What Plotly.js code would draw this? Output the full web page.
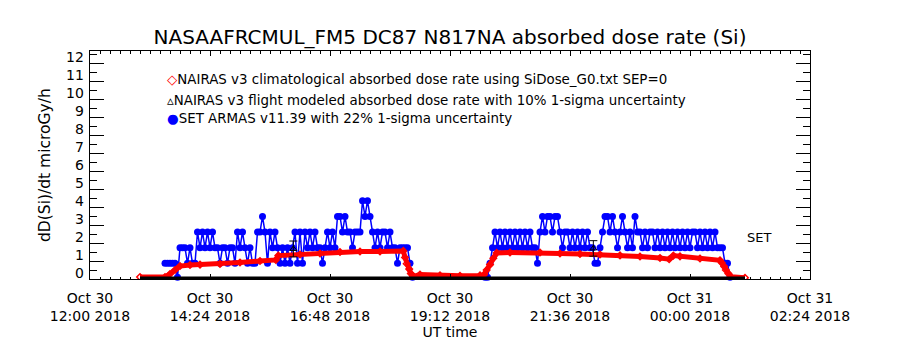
<!DOCTYPE html>
<html><head><meta charset="utf-8">
<script src="https://cdn.plot.ly/plotly-3.0.1.min.js"></script>
<style>html,body{margin:0;padding:0;background:#fff}#chart{width:900px;height:350px}</style>
</head><body><div id="chart"></div>
<script>
// ---- text ----
const chartTitle = "NASAAFRCMUL_FM5 DC87 N817NA absorbed dose rate (Si)";
const yAxisTitle = "dD(Si)/dt microGy/h";
const xAxisTitle = "UT time";
const legendLabels = [
  "NAIRAS v3 climatological absorbed dose rate using SiDose_G0.txt SEP=0",
  "NAIRAS v3 flight modeled absorbed dose rate with 10% 1-sigma uncertainty",
  "SET ARMAS v11.39 with 22% 1-sigma uncertainty"
];
const setLabel = "SET";

// ---- axes ----
const xRange = ["2018-10-30 12:00", "2018-10-31 02:24"];
const xTickVals = ["2018-10-30 12:00","2018-10-30 14:24","2018-10-30 16:48","2018-10-30 19:12","2018-10-30 21:36","2018-10-31 00:00","2018-10-31 02:24"];
const xTickText = ["Oct 30<br>12:00 2018","Oct 30<br>14:24 2018","Oct 30<br>16:48 2018","Oct 30<br>19:12 2018","Oct 30<br>21:36 2018","Oct 31<br>00:00 2018","Oct 31<br>02:24 2018"];
const yRange = [0, 12.67];
const yTickVals = [0,1,2,3,4,5,6,7,8,9,10,11,12];
const yTickText = ["0","1","2","3","4","5","6","7","8","9","10","11","12"];
const yLabelLift = 0.35; // tick labels sit slightly above their ticks, as in the original

// ---- NAIRAS climatological (red) ----
const climTimes = ["2018-10-30 13:00","2018-10-30 13:30","2018-10-30 13:36","2018-10-30 13:42","2018-10-30 13:48","2018-10-30 14:00","2018-10-30 14:12","2018-10-30 14:36","2018-10-30 15:00","2018-10-30 15:24","2018-10-30 15:43","2018-10-30 15:46","2018-10-30 16:12","2018-10-30 16:36","2018-10-30 17:00","2018-10-30 17:24","2018-10-30 17:48","2018-10-30 18:16","2018-10-30 18:18","2018-10-30 18:20","2018-10-30 18:23","2018-10-30 18:25","2018-10-30 18:28","2018-10-30 18:36","2018-10-30 19:00","2018-10-30 19:24","2018-10-30 19:48","2018-10-30 19:53","2018-10-30 19:56","2018-10-30 20:00","2018-10-30 20:04","2018-10-30 20:08","2018-10-30 20:24","2018-10-30 21:00","2018-10-30 21:24","2018-10-30 21:48","2018-10-30 22:12","2018-10-30 22:36","2018-10-30 23:00","2018-10-30 23:24","2018-10-30 23:35","2018-10-30 23:40","2018-10-30 23:48","2018-10-31 00:12","2018-10-31 00:36","2018-10-31 00:38","2018-10-31 00:41","2018-10-31 00:43","2018-10-31 00:46","2018-10-31 00:49","2018-10-31 01:06"];
const climDose = [0.11,0.11,0.28,0.5,0.72,0.78,0.8,0.83,0.92,1.0,1.06,1.3,1.36,1.42,1.5,1.53,1.53,1.56,1.2,0.85,0.55,0.3,0.15,0.25,0.2,0.18,0.2,0.25,0.5,0.8,1.15,1.45,1.47,1.47,1.42,1.39,1.36,1.31,1.25,1.17,1.1,1.3,1.26,1.14,1.04,0.9,0.7,0.5,0.3,0.12,0.07];

// ---- NAIRAS flight modeled (black) ----
const modelTimes = ["2018-10-30 13:00","2018-10-30 16:00","2018-10-30 19:00","2018-10-30 22:00","2018-10-31 01:06"];
const modelDose = [0.05,0.05,0.05,0.05,0.05];
const uncTimes = ["2018-10-30 16:04","2018-10-30 22:04"];
const uncDose = [1.67,1.70];
const uncErr = [0.44,0.43];

// ---- SET ARMAS (blue), 3-minute samples ----
const setLeg1Start = "2018-10-30T13:30:00Z";
const setLeg2Start = "2018-10-30T19:54:00Z";
const setCadenceMin = 3;
const setLeg1 = [0.87,0.87,0.87,0.87,0.87,0.1,1.74,1.74,1.74,0.87,
  1.74,0.87,0.87,2.61,1.74,2.61,1.74,2.61,1.74,2.61,
  1.74,1.74,0.87,1.74,1.74,0.87,1.74,1.74,0.87,2.61,
  1.74,2.61,1.74,0.87,1.74,0.87,0.87,2.61,2.61,3.48,
  2.61,0.87,2.61,1.74,2.61,1.74,0.87,1.74,0.87,1.74,
  0.87,1.74,2.61,0.87,2.61,0.87,2.61,1.74,2.61,1.74,
  2.61,1.74,1.74,0.87,1.74,2.61,1.74,2.61,1.74,3.48,
  3.48,2.61,3.48,2.61,2.61,1.74,2.61,2.61,2.61,4.35,
  3.48,4.35,3.48,2.61,1.74,2.61,1.74,2.61,2.61,1.74,
  2.61,1.74,1.74,0.87,1.74,1.74,1.74,1.74,0.87,0.1];
const setLeg2 = [0.1,0.1,0.87,1.74,2.61,1.74,2.61,1.74,2.61,1.74,
  2.61,1.74,2.61,1.74,2.61,1.74,2.61,1.74,2.61,1.74,
  1.74,0.87,2.61,3.48,2.61,3.48,3.48,2.61,3.48,3.48,
  2.61,1.74,2.61,2.61,1.74,2.61,1.74,2.61,1.74,2.61,
  1.74,2.61,1.74,1.74,0.87,0.87,1.74,2.61,3.48,3.48,
  2.61,3.48,2.61,1.74,2.61,3.48,2.61,1.74,2.61,1.74,
  3.48,2.61,2.61,1.74,2.61,1.74,2.61,2.61,1.74,2.61,
  1.74,2.61,1.74,2.61,1.74,2.61,1.74,2.61,1.74,2.61,
  1.74,2.61,1.74,2.61,2.61,1.74,2.61,1.74,2.61,1.74,
  2.61,1.74,2.61,1.74,1.74,1.74,0.87,0.87,0.1];

function sampleTimes(startIso, n) {
  const t0 = Date.parse(startIso);
  const out = [];
  for (let i = 0; i < n; i++) out.push(t0 + i * setCadenceMin * 60000);
  return out;
}
const setTimes = sampleTimes(setLeg1Start, setLeg1.length).concat([null], sampleTimes(setLeg2Start, setLeg2.length));
const setDose = setLeg1.concat([null], setLeg2);

const RED = "#ff0000", BLUE = "#0000ff", BLACK = "#000000";
const FONT = "DejaVu Sans, Liberation Sans, sans-serif";

const traces = [
  {x: setTimes, y: setDose, type: "scatter", mode: "lines+markers",
   line: {color: BLUE, width: 1.5}, marker: {color: BLUE, size: 7, symbol: "circle"},
   connectgaps: false, showlegend: false, cliponaxis: false},
  {x: climTimes, y: climDose, type: "scatter", mode: "lines+markers",
   line: {color: RED, width: 5}, marker: {color: RED, size: 5, symbol: "diamond-open", line: {width: 1.5, color: RED}},
   showlegend: false},
  {x: modelTimes, y: modelDose, type: "scatter", mode: "lines",
   line: {color: BLACK, width: 3}, showlegend: false},
  {x: uncTimes, y: uncDose, type: "scatter", mode: "markers",
   marker: {color: BLACK, size: 6, symbol: "triangle-up-open", line: {width: 1, color: BLACK}},
   error_y: {type: "data", array: uncErr, visible: true, color: BLACK, thickness: 1, width: 4},
   showlegend: false}
];

const legendSymbols = [
  '<span style="color:' + RED + '">◇</span>',
  '<span style="color:' + BLACK + '">▵</span>',
  '<span style="color:' + BLUE + '">●</span>'
];
const legendY = [0.877, 0.785, 0.702];
const annotations = legendLabels.map((t, i) => ({
  xref: "paper", yref: "paper", x: 0.104, y: legendY[i], xanchor: "left", yanchor: "middle",
  text: legendSymbols[i] + t, showarrow: false, font: {family: FONT, size: 13.4, color: BLACK}
}));
annotations.push({xref: "x", yref: "y", x: "2018-10-31 01:06", y: 2.33, xanchor: "left", yanchor: "middle",
  text: setLabel, showarrow: false, font: {family: FONT, size: 13, color: BLACK}});
// y tick labels, placed through the y scale
yTickVals.forEach((v, i) => annotations.push({
  xref: "paper", yref: "y", x: -0.0056, y: v + yLabelLift, xanchor: "right", yanchor: "middle",
  text: yTickText[i], showarrow: false, font: {family: FONT, size: 14, color: BLACK}
}));
annotations.push({xref: "paper", yref: "paper", x: -0.0625, y: 0.5, xanchor: "center", yanchor: "middle",
  textangle: -90, text: yAxisTitle, showarrow: false, font: {family: FONT, size: 15.5, color: BLACK}});

const layout = {
  width: 900, height: 350,
  margin: {l: 90, r: 90, t: 51, b: 71, autoexpand: false},
  paper_bgcolor: "#fff", plot_bgcolor: "#fff",
  font: {family: FONT, size: 14, color: BLACK},
  title: {text: chartTitle, x: 0.5, xref: "container", y: 0.894, yref: "container", yanchor: "middle",
          font: {family: FONT, size: 20, color: BLACK}},
  showlegend: false,
  xaxis: {type: "date", range: xRange, tickmode: "array", tickvals: xTickVals, ticktext: xTickText,
          ticks: "inside", ticklen: 5, tickcolor: BLACK, tickwidth: 1,
          showline: true, linecolor: BLACK, linewidth: 1, mirror: "ticks",
          showgrid: false, zeroline: false, ticklabelstandoff: 6,
          minor: {dtick: 12 * 60000, tick0: "2018-10-30 12:00", ticks: "inside", ticklen: 2.5, tickcolor: BLACK, showgrid: false},
          title: {text: xAxisTitle, standoff: 4, font: {family: FONT, size: 14, color: BLACK}},
          tickfont: {family: FONT, size: 14, color: BLACK}},
  yaxis: {range: yRange, tickmode: "array", tickvals: yTickVals, showticklabels: false,
          ticks: "inside", ticklen: 14, tickcolor: BLACK, tickwidth: 1,
          showline: true, linecolor: BLACK, linewidth: 1, mirror: "ticks",
          showgrid: false, zeroline: false,
          minor: {dtick: 0.5, tick0: 0, ticks: "inside", ticklen: 7, tickcolor: BLACK, showgrid: false}},
  annotations: annotations
};

Plotly.newPlot("chart", traces, layout, {staticPlot: true, displayModeBar: false});
</script>
</body></html>
